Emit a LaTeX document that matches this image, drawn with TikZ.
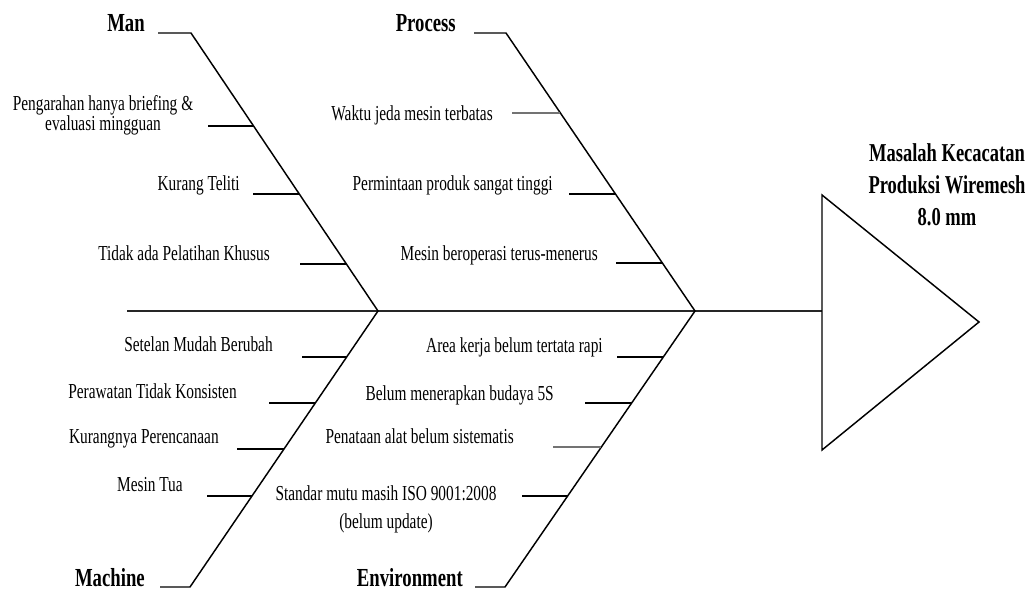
\documentclass[tikz,border=0pt]{standalone}
\usepackage{fontspec}
\setmainfont{Liberation Serif}[FakeStretch=0.72]
\usetikzlibrary{calc}
\tikzset{
  spine/.style={draw=black!85,line width=1.5pt},
  bone/.style={draw=black,line width=1.1pt},
  rib/.style={draw=black,line width=1.1pt},
  softrib/.style={draw=black!55,line width=1.6pt},
  cause/.style={inner sep=0pt,font=\fontsize{16}{14.25}\selectfont,align=center},
  cat/.style={inner sep=0pt,font=\fontsize{19.5}{24}\selectfont\bfseries},
  effect/.style={inner sep=0pt,font=\fontsize{19.3}{24}\selectfont\bfseries,align=center},
}

\begin{document}
\begin{tikzpicture}[x=0.75pt,y=-0.75pt]
  \useasboundingbox (0,0) rectangle (1028,591);
  % spine and head
  \coordinate (tail) at (127,311);
  \coordinate (head) at (822,311);
  \coordinate (jman) at (378,311);
  \coordinate (jpro) at (695,311);
  \coordinate (htop) at (822,195);
  \coordinate (htip) at (979,322);
  \coordinate (hbot) at (822,450);
  \draw[spine] (tail) -- (head);
  \draw[bone] (htop) -- (htip) -- (hbot) -- cycle;
  \node[effect,anchor=base] (effect) at (947,226)
    {Masalah Kecacatan\\Produksi Wiremesh\\8.0 mm};

  % main bones
  \coordinate (mantop) at (191,33);  \coordinate (manend) at (158,33);
  \coordinate (protop) at (506,33);  \coordinate (proend) at (474,33);
  \coordinate (macbot) at (190,587); \coordinate (macend) at (160,587);
  \coordinate (envbot) at (505,587); \coordinate (envend) at (475,587);
  \draw[bone] (manend) -- (mantop) -- (jman) -- (macbot) -- (macend);
  \draw[bone] (proend) -- (protop) -- (jpro) -- (envbot) -- (envend);
  \node[cat,anchor=base east] (man) at (145,32) {Man};
  \node[cat,anchor=base east] (process) at (456,32) {Process};
  \node[cat,anchor=base east] (machine) at (145,586) {Machine};
  \node[cat,anchor=base east] (environment) at (463,586) {Environment};

  % man
  \coordinate (m1) at ($(mantop)!0.3345!(jman)$);
  \coordinate (m2) at ($(mantop)!0.579!(jman)$);
  \coordinate (m3) at ($(mantop)!0.831!(jman)$);
  \draw[rib] (m1) -- ++(-46,0); \draw[rib] (m2) -- ++(-46,0); \draw[rib] (m3) -- ++(-46,0);
  \node[cause,anchor=base] (man1) at (103,131) {Pengarahan hanya briefing \&\\evaluasi mingguan};
  \node[cause,anchor=base east] (man2) at (240,191) {Kurang Teliti};
  \node[cause,anchor=base east] (man3) at (270,261) {Tidak ada Pelatihan Khusus};

  % process
  \coordinate (p1) at ($(protop)!0.288!(jpro)$);
  \coordinate (p2) at ($(protop)!0.579!(jpro)$);
  \coordinate (p3) at ($(protop)!0.827!(jpro)$);
  \draw[softrib] (p1) -- ++(-48,0); \draw[rib] (p2) -- ++(-46,0); \draw[rib] (p3) -- ++(-46,0);
  \node[cause,anchor=base east] (pro1) at (493,121) {Waktu jeda mesin terbatas};
  \node[cause,anchor=base east] (pro2) at (553,191) {Permintaan produk sangat tinggi};
  \node[cause,anchor=base east] (pro3) at (598,261) {Mesin beroperasi terus-menerus};

  % machine
  \coordinate (k1) at ($(jman)!0.1667!(macbot)$);
  \coordinate (k2) at ($(jman)!0.333!(macbot)$);
  \coordinate (k3) at ($(jman)!0.5!(macbot)$);
  \coordinate (k4) at ($(jman)!0.67!(macbot)$);
  \draw[rib] (k1) -- ++(-45,0); \draw[rib] (k2) -- ++(-46,0);
  \draw[rib] (k3) -- ++(-47,0); \draw[rib] (k4) -- ++(-45,0);
  \node[cause,anchor=base east] (mac1) at (273,352) {Setelan Mudah Berubah};
  \node[cause,anchor=base east] (mac2) at (237,399) {Perawatan Tidak Konsisten};
  \node[cause,anchor=base east] (mac3) at (219,444) {Kurangnya Perencanaan};
  \node[cause,anchor=base east] (mac4) at (183,491) {Mesin Tua};

  % environment
  \coordinate (e1) at ($(jpro)!0.1667!(envbot)$);
  \coordinate (e2) at ($(jpro)!0.333!(envbot)$);
  \coordinate (e3) at ($(jpro)!0.493!(envbot)$);
  \coordinate (e4) at ($(jpro)!0.67!(envbot)$);
  \draw[rib] (e1) -- ++(-46,0); \draw[rib] (e2) -- ++(-47,0);
  \draw[softrib] (e3) -- ++(-48,0); \draw[rib] (e4) -- ++(-46,0);
  \node[cause,anchor=base east] (env1) at (603,353) {Area kerja belum tertata rapi};
  \node[cause,anchor=base east] (env2) at (554,401) {Belum menerapkan budaya 5S};
  \node[cause,anchor=base east] (env3) at (514,444) {Penataan alat belum sistematis};
  \node[cause,anchor=base] (env4) at (386,528) {Standar mutu masih ISO 9001:2008\\[6.75pt](belum update)};
\end{tikzpicture}
\end{document}
